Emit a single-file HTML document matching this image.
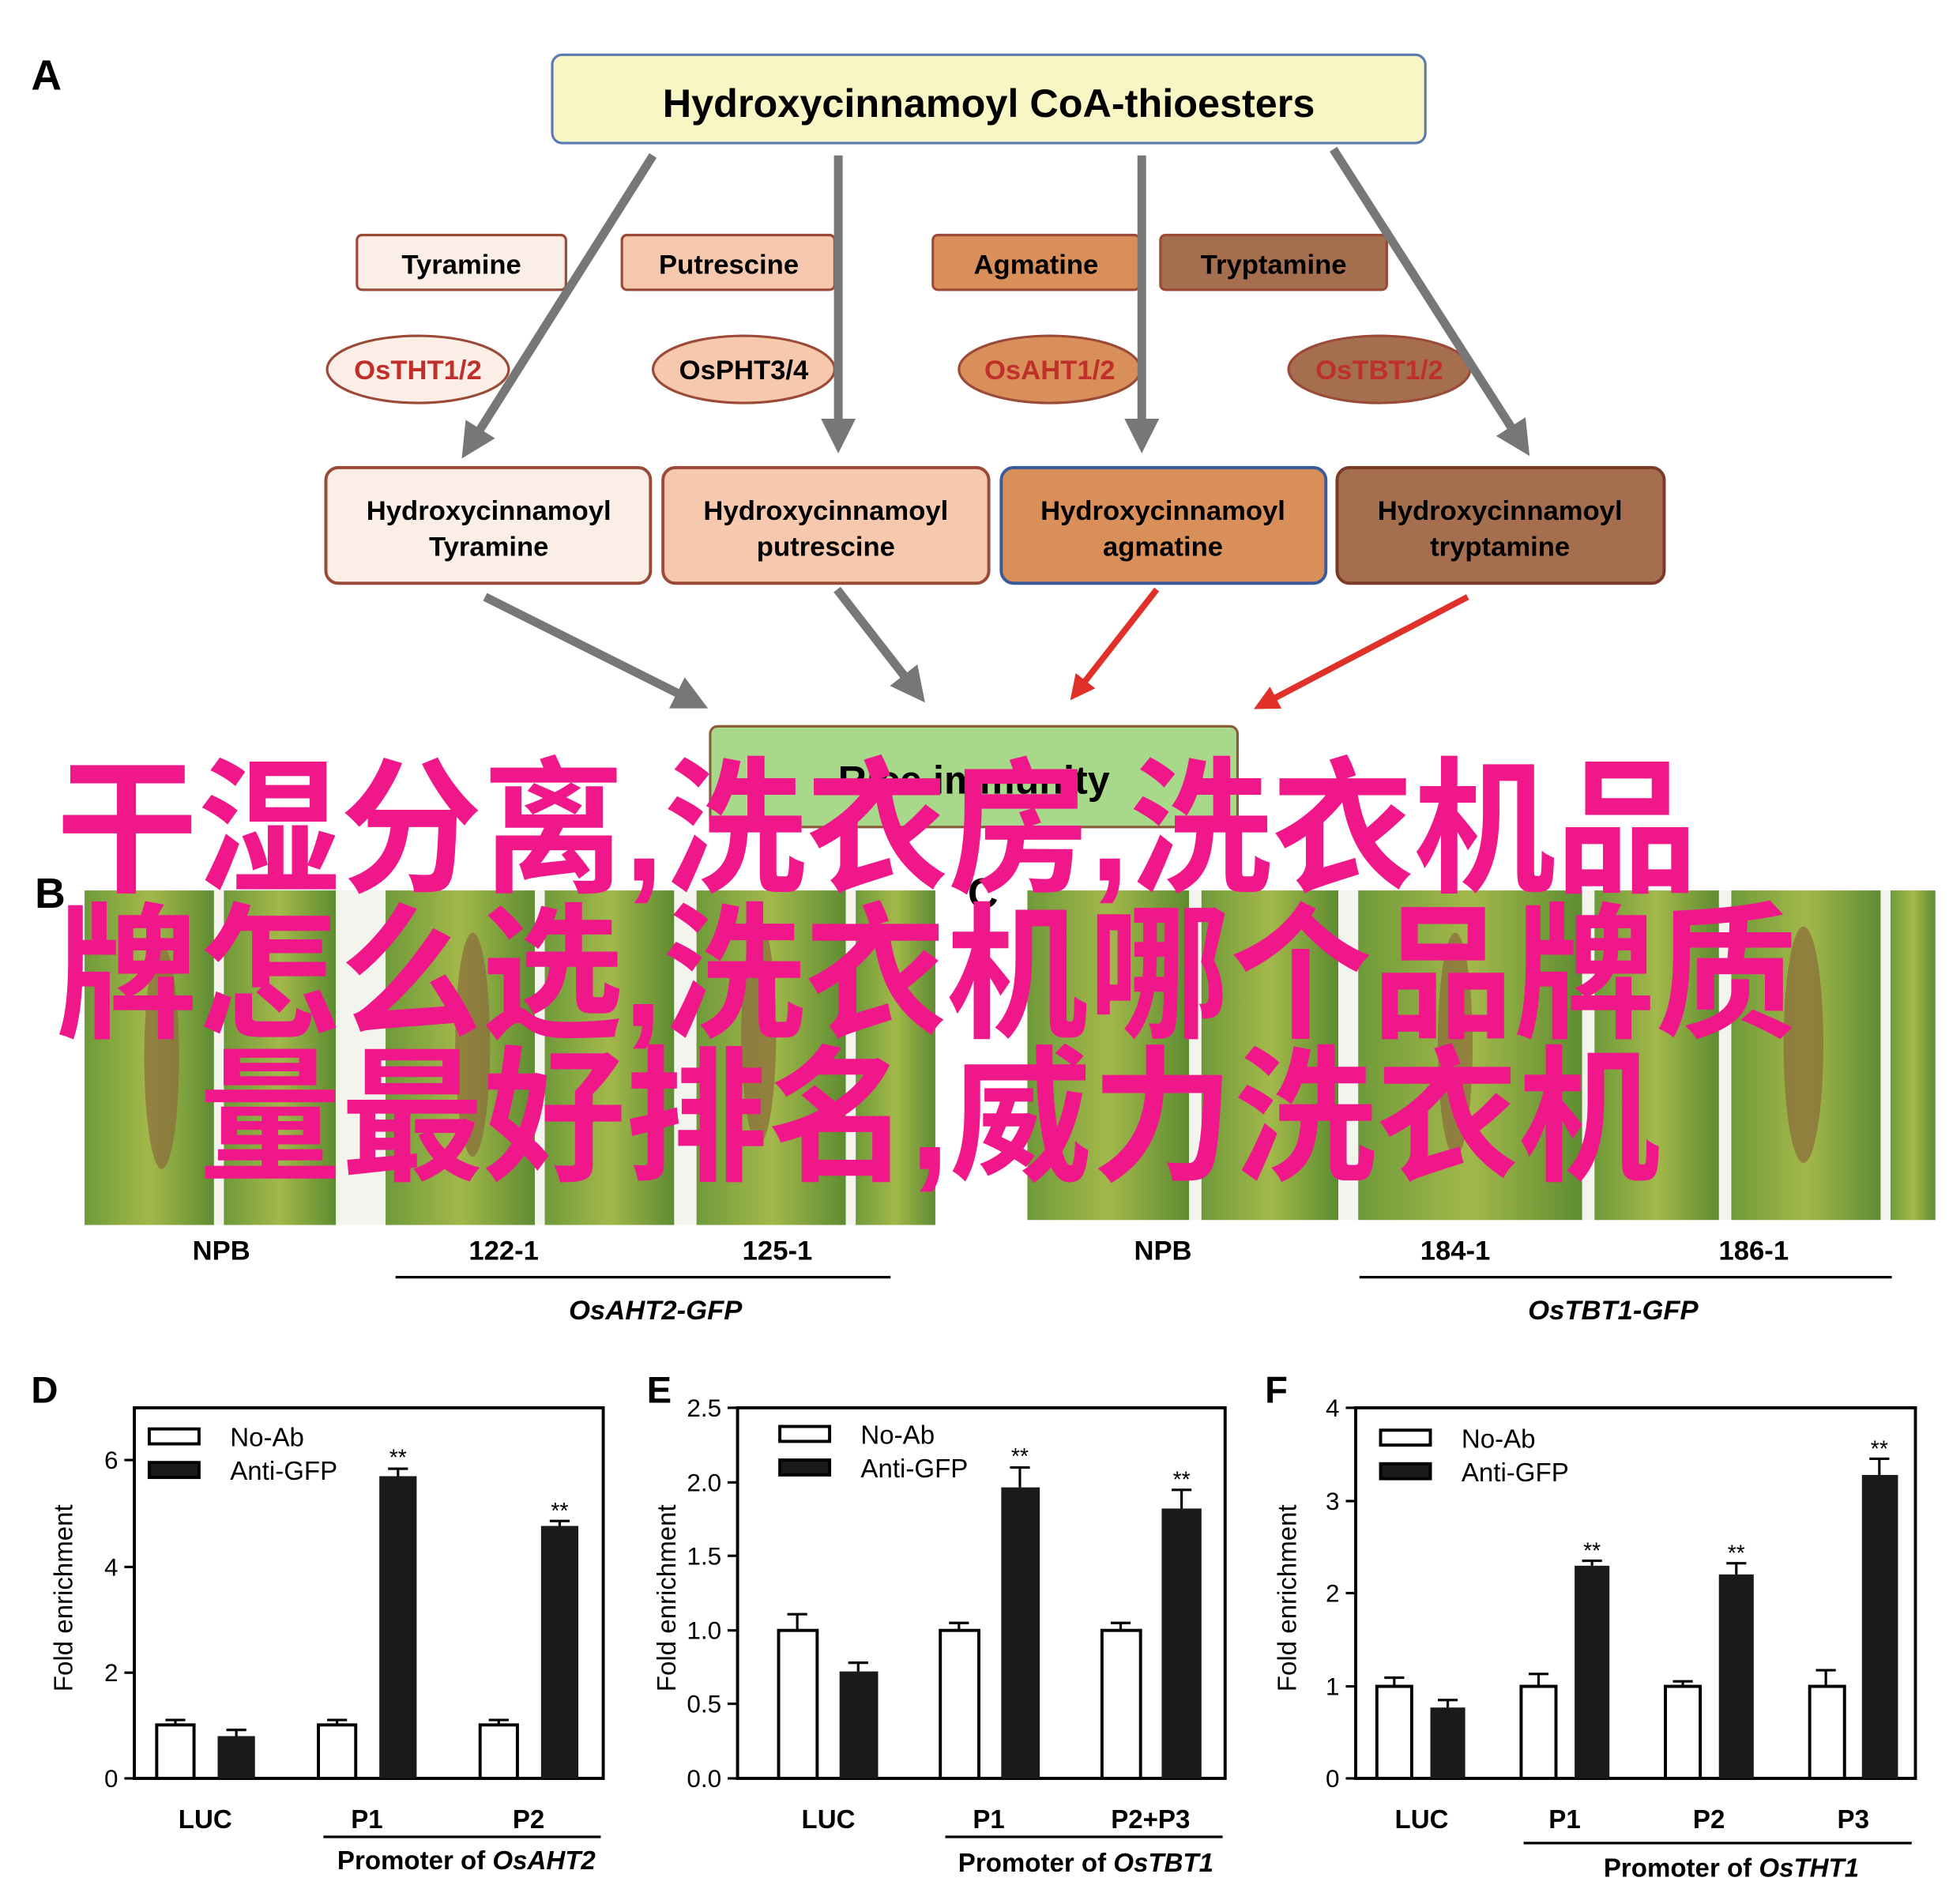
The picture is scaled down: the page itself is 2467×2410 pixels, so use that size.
<!DOCTYPE html>
<html><head><meta charset="utf-8"><style>
html,body{margin:0;padding:0;background:#fff;}
svg{display:block;}
text{font-family:"Liberation Sans",Arial,sans-serif;}
</style></head><body>
<svg width="2467" height="2410" viewBox="0 0 1567 1531" preserveAspectRatio="none" xmlns="http://www.w3.org/2000/svg">
<defs>
<marker id="ag" markerWidth="4" markerHeight="4" refX="2.2" refY="2" orient="auto" markerUnits="strokeWidth"><path d="M0,0 L4,2 L0,4 Z" fill="#777"/></marker>
<marker id="ar" markerWidth="4" markerHeight="4" refX="2.2" refY="2" orient="auto" markerUnits="strokeWidth"><path d="M0,0 L4,2 L0,4 Z" fill="#e0302a"/></marker>
<linearGradient id="leaf" x1="0" x2="1"><stop offset="0" stop-color="#6f9a3a"/><stop offset="0.5" stop-color="#a3b84a"/><stop offset="1" stop-color="#5e8c32"/></linearGradient>
</defs>
<rect width="1567" height="1531" fill="#fff"/>
<text x="25" y="72" font-size="34" font-weight="bold">A</text>
<rect x="444" y="44" width="702" height="71" rx="8" fill="#f8f6c4" stroke="#5a7ab0" stroke-width="2"/>
<text x="795" y="94" font-size="32" font-weight="bold" text-anchor="middle">Hydroxycinnamoyl CoA-thioesters</text>
<g font-size="22" font-weight="bold" text-anchor="middle" stroke="#9a4a36" stroke-width="2">
<rect x="287" y="189" width="168" height="44" rx="4" fill="#fbeee6"/>
<rect x="500" y="189" width="171" height="44" rx="4" fill="#f6c8ad"/>
<rect x="750" y="189" width="166" height="44" rx="4" fill="#d98f5a"/>
<rect x="933" y="189" width="182" height="44" rx="4" fill="#a56e4f"/>
<ellipse cx="336" cy="297" rx="73" ry="27" fill="#fbeee6"/>
<ellipse cx="598" cy="297" rx="73" ry="27" fill="#f6c8ad"/>
<ellipse cx="844" cy="297" rx="73" ry="27" fill="#d98f5a"/>
<ellipse cx="1109" cy="297" rx="73" ry="27" fill="#a56e4f"/>
</g>
<g font-size="22" font-weight="bold" text-anchor="middle">
<text x="371" y="220">Tyramine</text><text x="586" y="220">Putrescine</text><text x="833" y="220">Agmatine</text><text x="1024" y="220">Tryptamine</text>
<text x="336" y="305" fill="#c0302a">OsTHT1/2</text><text x="598" y="305">OsPHT3/4</text><text x="844" y="305" fill="#c0302a">OsAHT1/2</text><text x="1109" y="305" fill="#c0302a">OsTBT1/2</text>
</g>
<g stroke="#777" stroke-width="7" marker-end="url(#ag)">
<line x1="525" y1="125" x2="378" y2="358"/>
<line x1="674" y1="125" x2="674" y2="352"/>
<line x1="918" y1="125" x2="918" y2="352"/>
<line x1="1072" y1="120" x2="1223" y2="356"/>
<line x1="390" y1="480" x2="558" y2="564"/>
<line x1="673" y1="474" x2="736" y2="555"/>
</g>
<g stroke="#e0302a" stroke-width="5" marker-end="url(#ar)">
<line x1="930" y1="474" x2="866" y2="556"/>
<line x1="1180" y1="480" x2="1016" y2="566"/>
</g>
<g stroke-width="2.5">
<rect x="262" y="376" width="261" height="93" rx="10" fill="#fbeee6" stroke="#9a4a36"/>
<rect x="533" y="376" width="262" height="93" rx="10" fill="#f6c8ad" stroke="#9a4a36"/>
<rect x="805" y="376" width="261" height="93" rx="10" fill="#d98f5a" stroke="#3a5a9a"/>
<rect x="1075" y="376" width="263" height="93" rx="10" fill="#a56e4f" stroke="#7a3a26"/>
</g>
<g font-size="22" font-weight="bold" text-anchor="middle">
<text x="393" y="418">Hydroxycinnamoyl</text><text x="393" y="447">Tyramine</text>
<text x="664" y="418">Hydroxycinnamoyl</text><text x="664" y="447">putrescine</text>
<text x="935" y="418">Hydroxycinnamoyl</text><text x="935" y="447">agmatine</text>
<text x="1206" y="418">Hydroxycinnamoyl</text><text x="1206" y="447">tryptamine</text>
</g>
<rect x="571" y="584" width="424" height="81" rx="6" fill="#a8d88a" stroke="#8a5a3a" stroke-width="2"/>
<text x="783" y="638" font-size="32" font-weight="bold" text-anchor="middle">Rice immunity</text>
<rect x="68" y="716" width="684" height="269" fill="#f4f4ee"/>
<g fill="url(#leaf)">
<rect x="68" y="716" width="104" height="269"/><rect x="180" y="716" width="90" height="269"/>
<rect x="310" y="716" width="120" height="269"/><rect x="438" y="716" width="104" height="269"/>
<rect x="560" y="716" width="120" height="269"/><rect x="688" y="716" width="64" height="269"/>
</g>
<rect x="826" y="716" width="730" height="265" fill="#f4f4ee"/>
<g fill="url(#leaf)">
<rect x="826" y="716" width="130" height="265"/><rect x="966" y="716" width="110" height="265"/>
<rect x="1092" y="716" width="180" height="265"/><rect x="1282" y="716" width="100" height="265"/>
<rect x="1392" y="716" width="120" height="265"/><rect x="1520" y="716" width="36" height="265"/>
</g>
<g fill="#8a6a3a" opacity="0.7">
<ellipse cx="130" cy="850" rx="14" ry="90"/><ellipse cx="380" cy="840" rx="14" ry="90"/><ellipse cx="610" cy="830" rx="14" ry="90"/>
<ellipse cx="1170" cy="840" rx="14" ry="90"/><ellipse cx="1450" cy="840" rx="16" ry="95"/>
</g>
<text x="28" y="730" font-size="34" font-weight="bold">B</text>
<text x="778" y="730" font-size="34" font-weight="bold">C</text>
<g font-size="22" font-weight="bold" text-anchor="middle">
<text x="178" y="1013">NPB</text><text x="405" y="1013">122-1</text><text x="625" y="1013">125-1</text>
<text x="935" y="1013">NPB</text><text x="1170" y="1013">184-1</text><text x="1410" y="1013">186-1</text>
<text x="527" y="1061" font-style="italic">OsAHT2-GFP</text><text x="1297" y="1061" font-style="italic">OsTBT1-GFP</text>
</g>
<line x1="318" y1="1027" x2="716" y2="1027" stroke="#000" stroke-width="2"/>
<line x1="1093" y1="1027" x2="1521" y2="1027" stroke="#000" stroke-width="2"/>
<g fill="#f0178a" font-size="118" font-weight="bold">
<text x="45" y="708" textLength="1320" lengthAdjust="spacingAndGlyphs" style="font-family:'Liberation Sans','Noto Sans CJK SC',sans-serif">干湿分离,洗衣房,洗衣机品</text>
<text x="45" y="825" textLength="1400" lengthAdjust="spacingAndGlyphs" style="font-family:'Liberation Sans','Noto Sans CJK SC',sans-serif">牌怎么选,洗衣机哪个品牌质</text>
<text x="160" y="940" textLength="1175" lengthAdjust="spacingAndGlyphs" style="font-family:'Liberation Sans','Noto Sans CJK SC',sans-serif">量最好排名,威力洗衣机</text>
</g>
<g font-size="30" font-weight="bold"><text x="25" y="1128">D</text><text x="520" y="1128">E</text><text x="1017" y="1128">F</text></g>
<g stroke="#000" stroke-width="2.5" fill="none">
<rect x="108" y="1132" width="377" height="298"/>
<rect x="593" y="1132" width="392" height="298"/>
<rect x="1090" y="1132" width="450" height="298"/>
</g>
<g stroke="#000" stroke-width="2">
<line x1="100" y1="1430" x2="108" y2="1430"/><line x1="100" y1="1345" x2="108" y2="1345"/><line x1="100" y1="1260" x2="108" y2="1260"/><line x1="100" y1="1174" x2="108" y2="1174"/>
<line x1="585" y1="1430" x2="593" y2="1430"/><line x1="585" y1="1370" x2="593" y2="1370"/><line x1="585" y1="1311" x2="593" y2="1311"/><line x1="585" y1="1251" x2="593" y2="1251"/><line x1="585" y1="1192" x2="593" y2="1192"/><line x1="585" y1="1132" x2="593" y2="1132"/>
<line x1="1082" y1="1430" x2="1090" y2="1430"/><line x1="1082" y1="1356" x2="1090" y2="1356"/><line x1="1082" y1="1281" x2="1090" y2="1281"/><line x1="1082" y1="1207" x2="1090" y2="1207"/><line x1="1082" y1="1132" x2="1090" y2="1132"/>
</g>
<g font-size="20" text-anchor="end">
<text x="95" y="1437">0</text><text x="95" y="1352">2</text><text x="95" y="1267">4</text><text x="95" y="1181">6</text>
<text x="580" y="1437">0.0</text><text x="580" y="1377">0.5</text><text x="580" y="1318">1.0</text><text x="580" y="1258">1.5</text><text x="580" y="1199">2.0</text><text x="580" y="1139">2.5</text>
<text x="1077" y="1437">0</text><text x="1077" y="1363">1</text><text x="1077" y="1288">2</text><text x="1077" y="1214">3</text><text x="1077" y="1139">4</text>
</g>
<g font-size="21" text-anchor="middle">
<text transform="translate(58,1285) rotate(-90)">Fold  enrichment</text>
<text transform="translate(543,1285) rotate(-90)">Fold  enrichment</text>
<text transform="translate(1042,1285) rotate(-90)">Fold  enrichment</text>
</g>
<g stroke="#000" stroke-width="2">
<line x1="141" y1="1387" x2="141" y2="1383"/><line x1="133" y1="1383" x2="149" y2="1383"/>
<line x1="190" y1="1396" x2="190" y2="1391"/><line x1="182" y1="1391" x2="198" y2="1391"/>
<line x1="271" y1="1387" x2="271" y2="1383"/><line x1="263" y1="1383" x2="279" y2="1383"/>
<line x1="320" y1="1187" x2="320" y2="1181"/><line x1="312" y1="1181" x2="328" y2="1181"/>
<line x1="401" y1="1387" x2="401" y2="1383"/><line x1="393" y1="1383" x2="409" y2="1383"/>
<line x1="450" y1="1227" x2="450" y2="1223"/><line x1="442" y1="1223" x2="458" y2="1223"/>
<line x1="641" y1="1311" x2="641" y2="1298"/><line x1="633" y1="1298" x2="649" y2="1298"/>
<line x1="690" y1="1344" x2="690" y2="1337"/><line x1="682" y1="1337" x2="698" y2="1337"/>
<line x1="771" y1="1311" x2="771" y2="1305"/><line x1="763" y1="1305" x2="779" y2="1305"/>
<line x1="820" y1="1196" x2="820" y2="1180"/><line x1="812" y1="1180" x2="828" y2="1180"/>
<line x1="901" y1="1311" x2="901" y2="1305"/><line x1="893" y1="1305" x2="909" y2="1305"/>
<line x1="950" y1="1213" x2="950" y2="1198"/><line x1="942" y1="1198" x2="958" y2="1198"/>
<line x1="1121" y1="1356" x2="1121" y2="1349"/><line x1="1113" y1="1349" x2="1129" y2="1349"/>
<line x1="1164" y1="1373" x2="1164" y2="1367"/><line x1="1156" y1="1367" x2="1172" y2="1367"/>
<line x1="1237" y1="1356" x2="1237" y2="1346"/><line x1="1229" y1="1346" x2="1245" y2="1346"/>
<line x1="1280" y1="1259" x2="1280" y2="1255"/><line x1="1272" y1="1255" x2="1288" y2="1255"/>
<line x1="1353" y1="1356" x2="1353" y2="1352"/><line x1="1345" y1="1352" x2="1361" y2="1352"/>
<line x1="1396" y1="1266" x2="1396" y2="1257"/><line x1="1388" y1="1257" x2="1404" y2="1257"/>
<line x1="1468" y1="1356" x2="1468" y2="1343"/><line x1="1460" y1="1343" x2="1476" y2="1343"/>
<line x1="1511" y1="1186" x2="1511" y2="1173"/><line x1="1503" y1="1173" x2="1519" y2="1173"/>
</g>
<g stroke="#000" stroke-width="2.5" fill="#fff">
<rect x="126" y="1387" width="30" height="43"/><rect x="256" y="1387" width="30" height="43"/><rect x="386" y="1387" width="30" height="43"/>
<rect x="626" y="1311" width="31" height="119"/><rect x="756" y="1311" width="31" height="119"/><rect x="886" y="1311" width="31" height="119"/>
<rect x="1107" y="1356" width="28" height="74"/><rect x="1223" y="1356" width="28" height="74"/><rect x="1339" y="1356" width="28" height="74"/><rect x="1455" y="1356" width="28" height="74"/>
</g>
<g fill="#1a1a1a">
<rect x="175" y="1396" width="30" height="34"/><rect x="305" y="1187" width="30" height="243"/><rect x="435" y="1227" width="30" height="203"/>
<rect x="675" y="1344" width="31" height="86"/><rect x="805" y="1196" width="31" height="234"/><rect x="934" y="1213" width="32" height="217"/>
<rect x="1150" y="1373" width="28" height="57"/><rect x="1266" y="1259" width="28" height="171"/><rect x="1382" y="1266" width="28" height="164"/><rect x="1497" y="1186" width="29" height="244"/>
</g>
<g font-size="18" text-anchor="middle">
<text x="320" y="1178">**</text><text x="450" y="1221">**</text><text x="820" y="1177">**</text><text x="950" y="1196">**</text>
<text x="1280" y="1253">**</text><text x="1396" y="1255">**</text><text x="1511" y="1171">**</text>
</g>
<g stroke="#000" stroke-width="2.5">
<rect x="120" y="1149" width="40" height="12" fill="#fff"/><rect x="120" y="1176" width="40" height="12" fill="#1a1a1a"/>
<rect x="627" y="1147" width="40" height="12" fill="#fff"/><rect x="627" y="1174" width="40" height="12" fill="#1a1a1a"/>
<rect x="1110" y="1150" width="40" height="12" fill="#fff"/><rect x="1110" y="1177" width="40" height="12" fill="#1a1a1a"/>
</g>
<g font-size="21">
<text x="185" y="1163">No-Ab</text><text x="185" y="1190">Anti-GFP</text>
<text x="692" y="1161">No-Ab</text><text x="692" y="1188">Anti-GFP</text>
<text x="1175" y="1164">No-Ab</text><text x="1175" y="1191">Anti-GFP</text>
</g>
<g font-size="21" font-weight="bold" text-anchor="middle">
<text x="165" y="1470">LUC</text><text x="295" y="1470">P1</text><text x="425" y="1470">P2</text>
<text x="666" y="1470">LUC</text><text x="795" y="1470">P1</text><text x="925" y="1470">P2+P3</text>
<text x="1143" y="1470">LUC</text><text x="1258" y="1470">P1</text><text x="1374" y="1470">P2</text><text x="1490" y="1470">P3</text>
<text x="375" y="1503">Promoter of <tspan font-style="italic">OsAHT2</tspan></text>
<text x="873" y="1505">Promoter of <tspan font-style="italic">OsTBT1</tspan></text>
<text x="1392" y="1509">Promoter of <tspan font-style="italic">OsTHT1</tspan></text>
</g>
<g stroke="#000" stroke-width="2">
<line x1="260" y1="1477" x2="483" y2="1477"/><line x1="760" y1="1477" x2="983" y2="1477"/><line x1="1225" y1="1482" x2="1537" y2="1482"/>
</g>
</svg>
</body></html>
